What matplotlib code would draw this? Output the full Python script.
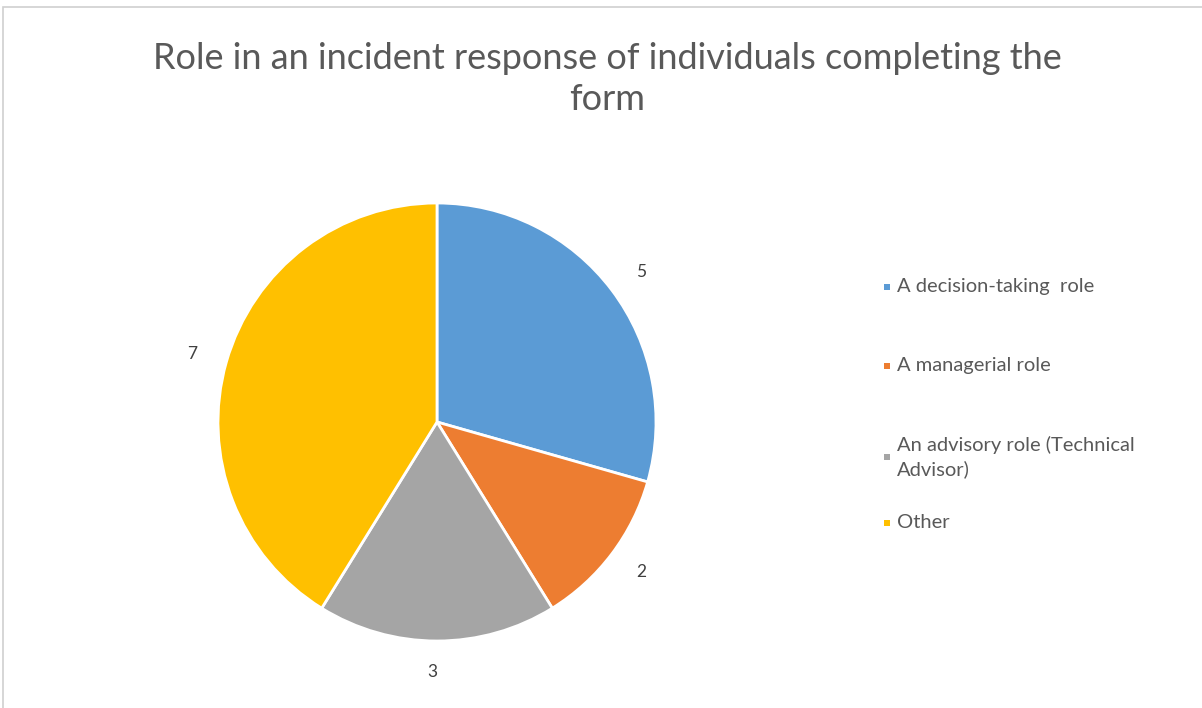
import matplotlib
matplotlib.use("Agg")
import matplotlib.pyplot as plt
from matplotlib.patches import Rectangle

categories = ["A decision-taking  role", "A managerial role",
              "An advisory role (Technical\nAdvisor)", "Other"]
values = [5, 2, 3, 7]
colors = ["#5B9BD5", "#ED7D31", "#A5A5A5", "#FFC000"]
title = "Role in an incident response of individuals completing the\nform"

W, H = 1202, 708
fig = plt.figure(figsize=(W / 100, H / 100), dpi=100)
fig.patch.set_facecolor("white")

# frame
fig.patches.append(Rectangle((3 / W, -0.05), 1.1, 1 - 7 / H + 0.05, transform=fig.transFigure,
                             fill=False, edgecolor="#d0d0d0", linewidth=1.2))

cx, cy, r = 437, 422, 219
ax = fig.add_axes([(cx - r) / W, (H - cy - r) / H, 2 * r / W, 2 * r / H])
wedges, texts = ax.pie(values, colors=colors, startangle=90, counterclock=False,
                       labels=[str(v) for v in values], labeldistance=1.14,
                       wedgeprops=dict(edgecolor="white", linewidth=2),
                       textprops=dict(fontsize=12.5, color="#404040", family="Lato"))
ax.set_aspect("equal")
ax.set_xlim(-1, 1)
ax.set_ylim(-1, 1)
ax.axis("off")

fig.text(607 / W, 1 - 79 / H, title, ha="center", va="center", fontsize=26,
         color="#595959", family="Lato", linespacing=1.3)

# legend
leg_y = [287, 366, 457, 523]
for cat, col, y in zip(categories, colors, leg_y):
    fig.patches.append(Rectangle((884 / W, 1 - (y + 3) / H), 6 / W, 6 / H,
                                 transform=fig.transFigure, facecolor=col, edgecolor="none"))
    fig.text(897 / W, 1 - y / H, cat, ha="left", va="center", fontsize=14.5,
             color="#595959", family="Lato", linespacing=1.45)

fig.savefig("out.png", dpi=100)
